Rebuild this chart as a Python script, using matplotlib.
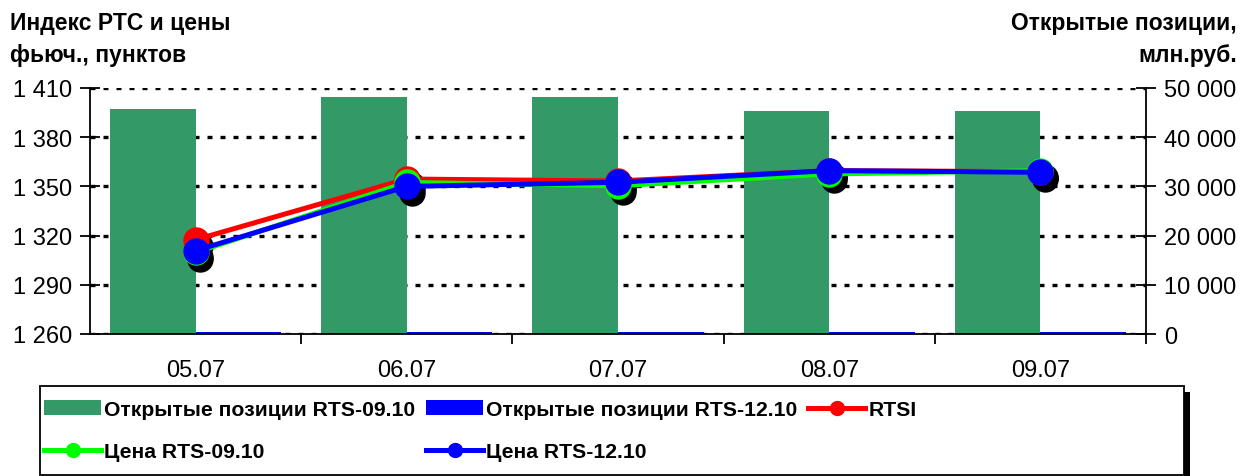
import numpy as np
import matplotlib.pyplot as plt
from matplotlib.lines import Line2D
from matplotlib.patches import Patch, Rectangle
from matplotlib.transforms import ScaledTranslation

plt.rcParams['font.family'] = ['Liberation Sans', 'DejaVu Sans']

# data
dates = ['05.07', '06.07', '07.07', '08.07', '09.07']
oi_0910 = [45700, 48200, 48200, 45300, 45300]   # млн.руб.
oi_1210 = [500, 500, 500, 500, 500]
rtsi = [1317.5, 1354.5, 1353.3, 1359.6, 1359.0]
price_0910 = [1309.7, 1352.4, 1350.4, 1357.6, 1359.6]
price_1210 = [1310.8, 1350.0, 1352.5, 1359.6, 1358.6]

GREEN_BAR = '#339966'
x = np.arange(len(dates))
W = 0.405

fig = plt.figure(figsize=(12.43, 4.77), dpi=100)
ax = fig.add_axes([90 / 1243, 1 - 335 / 477, 1056 / 1243, 246 / 477])

# bars (right axis)
ax.bar(x - W, oi_0910, width=W, align='edge', color=GREEN_BAR, zorder=2)
ax.bar(x, oi_1210, width=W, align='edge', color='#0000ff', zorder=2)
ax.set_xlim(-0.5, len(dates) - 0.5)
ax.set_ylim(0, 50000)
ax.yaxis.grid(True, color='black', linestyle=(0, (1.5, 2.4)), linewidth=2.4, zorder=1)
ax.set_axisbelow(True)

ax.set_xticks(x + 0.5)
ax.set_xticklabels([])
ax.set_xticks(x, minor=True)
ax.set_xticklabels(dates, minor=True, fontsize=17)
ax.tick_params(axis='x', which='major', direction='out', length=7, width=1.3)
ax.tick_params(axis='x', which='minor', length=0, pad=18)

ax.spines['top'].set_visible(False)
for s in ['left', 'right', 'bottom']:
    ax.spines[s].set_linewidth(1.3)

# lines (left axis)
axl = ax.twinx()
axl.yaxis.tick_left()
axl.set_ylim(1260, 1410)
axl.set_yticks(np.arange(1260, 1411, 30))
axl.set_yticklabels([f'{v:,}'.replace(',', ' ') for v in range(1260, 1411, 30)])
axl.tick_params(axis='y', direction='inout', length=14, width=1.3, labelsize=17, pad=6)
for s in axl.spines.values():
    s.set_visible(False)

# right axis ticks for bars (after twinx, which resets them)
ax.yaxis.tick_right()
ax.set_yticks(np.arange(0, 50001, 10000))
ax.set_yticklabels([f'{v:,}'.replace(',', ' ') for v in range(0, 50001, 10000)])
ax.tick_params(axis='y', direction='inout', length=14, width=1.3, labelsize=17, pad=6)

shadow = axl.transData + ScaledTranslation(3.5 / 72, -4.5 / 72, fig.dpi_scale_trans)
for series in (rtsi, price_0910, price_1210):
    axl.plot(x, series, 'o', color='black', markersize=18, transform=shadow, zorder=3)

axl.plot(x, rtsi, '-o', color='#ff0000', lw=3.6, markersize=18, zorder=4)
axl.plot(x, price_0910, '-o', color='#00ff00', lw=3.6, markersize=18, zorder=5)
axl.plot(x, price_1210, '-o', color='#0000ff', lw=3.6, markersize=18, zorder=6)

# axis titles
fig.text(10 / 1243, 1 - 30 / 477, 'Индекс РТС и цены', fontsize=16.5, fontweight='bold', va='baseline')
fig.text(10 / 1243, 1 - 62 / 477, 'фьюч., пунктов', fontsize=16.5, fontweight='bold', va='baseline')
fig.text(1237 / 1243, 1 - 30 / 477, 'Открытые позиции,', fontsize=16.5, fontweight='bold',
         va='baseline', ha='right')
fig.text(1237 / 1243, 1 - 62 / 477, 'млн.руб.', fontsize=16.5, fontweight='bold',
         va='baseline', ha='right')

# legend box with shadow
fig.patches.append(Rectangle((1184 / 1243, 0), 6 / 1243, 84 / 477, transform=fig.transFigure,
                             facecolor='black', edgecolor='none', zorder=0))
fig.patches.append(Rectangle((40 / 1243, 1 / 477), 1144 / 1243, 89 / 477, transform=fig.transFigure,
                             facecolor='white', edgecolor='black', linewidth=1.3, zorder=1))

handles = [
    Patch(facecolor=GREEN_BAR),
    Line2D([], [], color='#00ff00', lw=3.6, marker='o', markersize=10),
    Patch(facecolor='#0000ff'),
    Line2D([], [], color='#0000ff', lw=3.6, marker='o', markersize=10),
    Line2D([], [], color='#ff0000', lw=3.6, marker='o', markersize=10),
]
labels = ['Открытые позиции RTS-09.10', 'Цена RTS-09.10',
          'Открытые позиции RTS-12.10', 'Цена RTS-12.10', 'RTSI']
fig.legend(handles, labels, ncol=3, loc='upper left', frameon=False,
           bbox_to_anchor=(40 / 1243, 1 - 397 / 477),
           prop={'weight': 'bold', 'size': 15.2},
           handlelength=2.7, handletextpad=0.15, columnspacing=0.5,
           labelspacing=1.1, borderpad=0.0, borderaxespad=0.2)

fig.savefig('out.png', dpi=100)
